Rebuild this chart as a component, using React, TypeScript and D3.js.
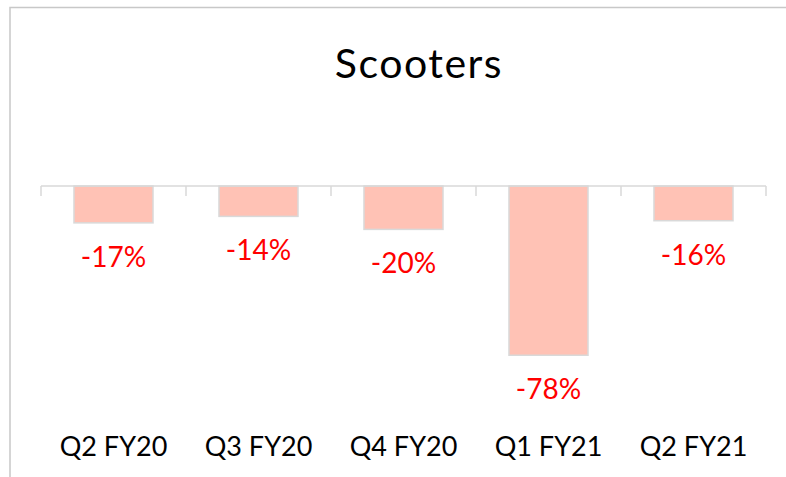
import React, { useRef, useEffect } from 'react';
import * as d3 from 'd3';

const categories = ['Q2 FY20', 'Q3 FY20', 'Q4 FY20', 'Q1 FY21', 'Q2 FY21'];
const values = [-0.17, -0.14, -0.2, -0.78, -0.16];
const title = 'Scooters';

const width = 786;
const height = 477;

const App = () => {
  const ref = useRef<SVGSVGElement>(null);

  useEffect(() => {
    const svg = d3.select(ref.current);
    svg.selectAll('*').remove();

    const font = 'Lato, "Open Sans", sans-serif';

    // chart frame (only top and left edges visible)
    svg.append('path')
      .attr('d', `M10,${height} L10,7.5 L${width},7.5`)
      .attr('fill', 'none')
      .attr('stroke', '#c8c8c8')
      .attr('stroke-width', 1.5);

    svg.append('text')
      .attr('x', 419)
      .attr('y', 78)
      .attr('text-anchor', 'middle')
      .attr('font-family', font)
      .attr('font-size', 41)
      .attr('letter-spacing', 1.5)
      .attr('fill', '#000')
      .text(title);

    const x = d3.scaleBand()
      .domain(categories)
      .range([41, 766])
      .paddingInner(0.455)
      .paddingOuter(0.2275);

    const y = d3.scaleLinear()
      .domain([-1, 0])
      .range([186 + 217, 186]);

    const step = x.step();
    const x0 = 41;

    // bars
    svg.append('g')
      .selectAll('rect')
      .data(values)
      .join('rect')
      .attr('x', (d, i) => x(categories[i])!)
      .attr('y', y(0))
      .attr('width', x.bandwidth())
      .attr('height', (d) => y(d) - y(0))
      .attr('fill', '#ffc2b5')
      .attr('stroke', '#d9d9d9')
      .attr('stroke-width', 1.5);

    // axis line with category tick marks
    const axis = svg.append('g').attr('stroke', '#d9d9d9').attr('stroke-width', 1.5);
    axis.append('line')
      .attr('x1', x0).attr('x2', x0 + step * categories.length)
      .attr('y1', y(0)).attr('y2', y(0));
    axis.selectAll('line.tick')
      .data(d3.range(categories.length + 1))
      .join('line')
      .attr('class', 'tick')
      .attr('x1', (i) => x0 + i * step)
      .attr('x2', (i) => x0 + i * step)
      .attr('y1', y(0))
      .attr('y2', y(0) + 10);

    // data labels
    svg.append('g')
      .selectAll('text')
      .data(values)
      .join('text')
      .attr('x', (d, i) => x(categories[i])! + x.bandwidth() / 2)
      .attr('y', (d) => y(d) + 44)
      .attr('text-anchor', 'middle')
      .attr('font-family', font)
      .attr('font-size', 28)
      .attr('fill', '#ff0000')
      .text((d) => `${Math.round(d * 100)}%`);

    // category labels
    svg.append('g')
      .selectAll('text')
      .data(categories)
      .join('text')
      .attr('x', (d) => x(d)! + x.bandwidth() / 2)
      .attr('y', 456)
      .attr('text-anchor', 'middle')
      .attr('font-family', font)
      .attr('font-size', 27)
      .attr('fill', '#000')
      .text((d) => d);
  }, []);

  return (
    <svg
      ref={ref}
      width={width}
      height={height}
      style={{ position: 'absolute', left: 0, top: 0, background: '#fff' }}
    />
  );
};

export default App;
